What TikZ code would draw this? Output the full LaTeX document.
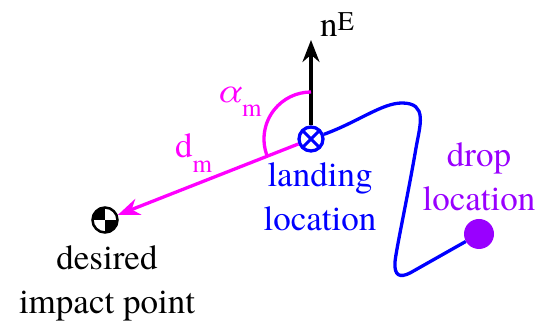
\documentclass[tikz,border=0pt]{standalone}
\usepackage{fontspec}
\setmainfont{TeX Gyre Termes}
\usetikzlibrary{arrows.meta, positioning}
\definecolor{landblue}{RGB}{0,0,255}
\definecolor{dropviolet}{RGB}{153,0,255}
\definecolor{anglemag}{RGB}{255,0,255}

\begin{document}
\begin{tikzpicture}[
  x=1pt, y=-1pt,
  lbl/.style={font=\rmfamily\fontsize{35}{44}\selectfont, align=center, inner sep=0pt},
  arr/.style={-{Stealth[length=22pt, width=17pt]}, line width=3.3pt},
  landmark/.style={circle, draw=landblue, line width=3.3pt, minimum size=24pt, inner sep=0pt,
    path picture={\draw[landblue, line width=3pt]
      (path picture bounding box.north west) -- (path picture bounding box.south east)
      (path picture bounding box.north east) -- (path picture bounding box.south west);}},
  target/.style={circle, draw=black, line width=2.5pt, minimum size=25pt, inner sep=0pt,
    path picture={\fill (path picture bounding box.center) rectangle (path picture bounding box.north west);
      \fill (path picture bounding box.center) rectangle (path picture bounding box.south east);}},
  dropdot/.style={circle, fill=dropviolet, minimum size=30pt, inner sep=0pt}
]
\useasboundingbox (0,0) rectangle (539,328);

% points
\node[landmark] (land)    at (311,139) {};
\node[target]   (desired) at (105,220) {};
\node[dropdot]  (drop)    at (479,234) {};
\coordinate (ntip) at (311,40);

% labels
\node[lbl, landblue, below=10pt of land, xshift=9pt] (landtxt) {landing\\location};
\node[lbl, below=12pt of desired, xshift=2pt] (desiredtxt) {desired\\impact point};
\node[lbl, dropviolet, above=8pt of drop] (droptxt) {drop\\location};
\node[lbl, anchor=base west] (nlbl) at (320,37) {n\raisebox{6pt}{\fontsize{27}{27}\selectfont E}};
\node[lbl, anglemag, anchor=base west] (alphalbl) at (217,103) {\textit{α}\raisebox{-14pt}{\fontsize{25}{25}\selectfont m}};
\node[lbl, anglemag, anchor=base west] (dlbl) at (175,158) {d\raisebox{-15pt}{\fontsize{25}{25}\selectfont m}};

% connectors
\draw[arr] (land) -- (ntip);
\draw[arr, anglemag] (land) -- (desired);
\draw[anglemag, line width=3.3pt] (land.center) ++(158.3:47) arc[start angle=158.3, end angle=270, radius=47];
\draw[landblue, line width=3.3pt] (land)
  .. controls (358,122) and (382,103) .. (402,103)
  .. controls (428,103) and (420,125) .. (416,148)
  .. controls (408,195) and (396,250) .. (395,262)
  .. controls (394,276) and (400,278) .. (410,273) -- (drop);
\end{tikzpicture}
\end{document}
